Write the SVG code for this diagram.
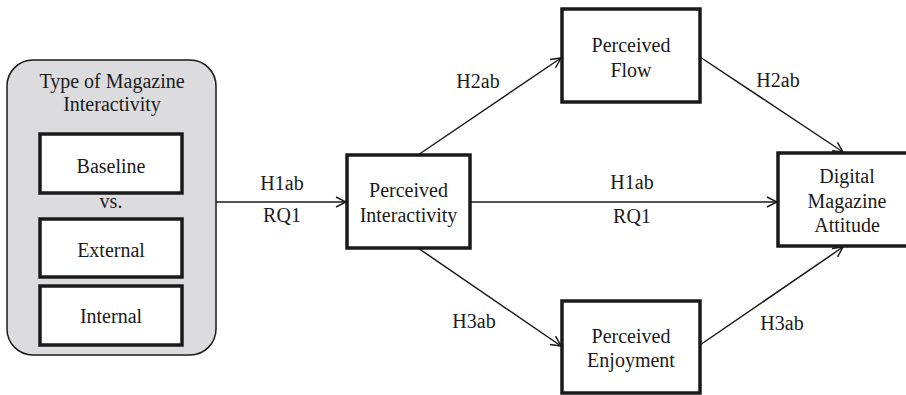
<svg xmlns="http://www.w3.org/2000/svg" width="906" height="395" viewBox="0 0 906 395">
<defs>
<style>
text{font-family:"Liberation Serif","Times New Roman",serif;font-size:20px;fill:#1a1a1a;text-anchor:middle}
.box{fill:#fff;stroke:#1a1a1a;stroke-width:3.5}
.grp{fill:#dcdcde;stroke:#1a1a1a;stroke-width:1.5}
.edge{fill:none;stroke:#1a1a1a;stroke-width:1.5}
</style>
<marker id="arr" viewBox="0 0 12 12" refX="11" refY="6" markerWidth="12" markerHeight="12" markerUnits="userSpaceOnUse" orient="auto">
<path d="M1,1 L11,6 L1,11" fill="none" stroke="#1a1a1a" stroke-width="1.5"/>
</marker>
</defs>
<rect width="906" height="395" fill="#fff"/>
<g id="type-of-interactivity">
<rect class="grp" x="7" y="60" width="209" height="295" rx="26" ry="26"/>
<text x="112" y="88">Type of Magazine</text>
<text x="112" y="111">Interactivity</text>
</g>
<g id="baseline">
<rect class="box" x="40" y="134" width="142" height="59"/>
<text x="111" y="173">Baseline</text>
</g>
<text x="111" y="208">vs.</text>
<g id="external">
<rect class="box" x="40" y="219" width="142" height="58"/>
<text x="111" y="257">External</text>
</g>
<g id="internal">
<rect class="box" x="40" y="286" width="142" height="59"/>
<text x="111" y="323">Internal</text>
</g>
<g id="perceived-interactivity">
<rect class="box" x="347" y="155" width="123" height="93"/>
<text x="408.5" y="197">Perceived</text>
<text x="408.5" y="222">Interactivity</text>
</g>
<g id="perceived-flow">
<rect class="box" x="562" y="9" width="138" height="93"/>
<text x="631" y="52">Perceived</text>
<text x="631" y="77">Flow</text>
</g>
<g id="perceived-enjoyment">
<rect class="box" x="562" y="301" width="138" height="92"/>
<text x="631" y="343">Perceived</text>
<text x="631" y="367">Enjoyment</text>
</g>
<g id="digital-magazine-attitude">
<rect class="box" x="778" y="153" width="140" height="93"/>
<text x="847" y="183">Digital</text>
<text x="847" y="208">Magazine</text>
<text x="847" y="232">Attitude</text>
</g>
<g id="connectors">
<line class="edge" x1="216" y1="202" x2="346" y2="202" marker-end="url(#arr)"/>
<line class="edge" x1="470" y1="202" x2="777" y2="202" marker-end="url(#arr)"/>
<line class="edge" x1="418" y1="155" x2="561" y2="58" marker-end="url(#arr)"/>
<line class="edge" x1="418" y1="248" x2="561" y2="346" marker-end="url(#arr)"/>
<line class="edge" x1="700" y1="57" x2="843" y2="152" marker-end="url(#arr)"/>
<line class="edge" x1="700" y1="345" x2="843" y2="247" marker-end="url(#arr)"/>
<text x="282" y="190">H1ab</text>
<text x="282" y="222">RQ1</text>
<text x="632" y="189">H1ab</text>
<text x="632" y="223">RQ1</text>
<text x="478" y="88">H2ab</text>
<text x="474" y="328">H3ab</text>
<text x="778" y="87">H2ab</text>
<text x="782" y="330">H3ab</text>
</g>
</svg>
